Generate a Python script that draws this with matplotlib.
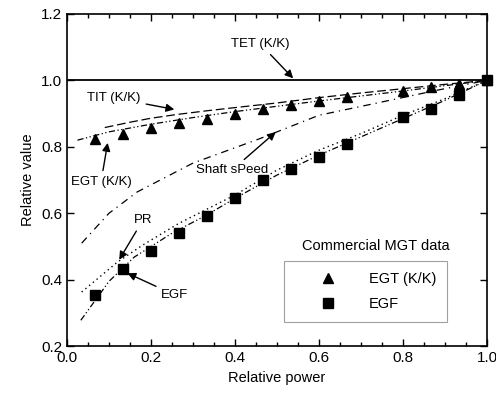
import matplotlib
matplotlib.use("Agg")
import matplotlib.pyplot as plt
from matplotlib.ticker import MultipleLocator
from matplotlib.lines import Line2D

plt.rcParams['font.family'] = ['Liberation Sans', 'DejaVu Sans']

# Measured data (commercial MGT)
egt_x = [0.067, 0.133, 0.2, 0.267, 0.333, 0.4, 0.467, 0.533, 0.6, 0.667, 0.8, 0.867, 0.933, 1.0]
egt_y = [0.825, 0.84, 0.857, 0.872, 0.884, 0.9, 0.914, 0.926, 0.938, 0.95, 0.968, 0.98, 0.99, 1.0]
egf_x = [0.067, 0.133, 0.2, 0.267, 0.333, 0.4, 0.467, 0.533, 0.6, 0.667, 0.8, 0.867, 0.933, 1.0]
egf_y = [0.354, 0.432, 0.486, 0.54, 0.592, 0.645, 0.70, 0.733, 0.77, 0.808, 0.89, 0.914, 0.956, 1.0]

# Model curves
tet_x = [0.0, 1.0]
tet_y = [1.0, 1.0]
tit_x = [0.09, 0.15, 0.2, 0.26, 0.33, 0.4, 0.5, 0.6, 0.7, 0.8, 0.9, 1.0]
tit_y = [0.858, 0.874, 0.886, 0.897, 0.908, 0.918, 0.932, 0.948, 0.962, 0.975, 0.988, 1.0]
egtm_x = [0.025, 0.1, 0.2, 0.3, 0.4, 0.5, 0.6, 0.7, 0.8, 0.9, 1.0]
egtm_y = [0.82, 0.845, 0.868, 0.888, 0.906, 0.922, 0.938, 0.953, 0.968, 0.984, 1.0]
spd_x = [0.035, 0.1, 0.167, 0.3, 0.46, 0.6, 0.75, 0.88, 1.0]
spd_y = [0.51, 0.6, 0.664, 0.751, 0.825, 0.895, 0.935, 0.97, 1.0]
pr_x = [0.035, 0.12, 0.18, 0.267, 0.4, 0.5, 0.6, 0.7, 0.8, 0.9, 1.0]
pr_y = [0.363, 0.453, 0.504, 0.57, 0.655, 0.73, 0.79, 0.84, 0.895, 0.945, 1.0]
egfm_x = [0.033, 0.1, 0.16, 0.25, 0.333, 0.4, 0.5, 0.6, 0.7, 0.8, 0.9, 1.0]
egfm_y = [0.278, 0.395, 0.468, 0.54, 0.595, 0.645, 0.715, 0.775, 0.83, 0.885, 0.94, 1.0]

fig = plt.figure(figsize=(4.96, 3.97), dpi=100)
ax = fig.add_axes([0.135, 0.128, 0.847, 0.837])

ax.plot(tet_x, tet_y, color='black', lw=1.3, ls='-')
ax.plot(tit_x, tit_y, color='black', lw=0.9, ls=(0, (7, 3)))
ax.plot(egtm_x, egtm_y, color='black', lw=0.9, ls=(0, (5, 2, 1, 2, 1, 2)))
ax.plot(spd_x, spd_y, color='black', lw=0.9, ls=(0, (6, 4, 1, 4)))
ax.plot(pr_x, pr_y, color='black', lw=1.0, ls=(0, (1, 2.5)))
ax.plot(egfm_x, egfm_y, color='black', lw=0.9, ls=(0, (5, 2, 1, 2, 1, 2)))

ax.plot(egt_x, egt_y, ls='none', marker='^', ms=7.5, color='black', clip_on=False)
ax.plot(egf_x, egf_y, ls='none', marker='s', ms=7.5, color='black', clip_on=False)

ax.set_xlim(0.0, 1.0)
ax.set_ylim(0.2, 1.2)
ax.xaxis.set_major_locator(MultipleLocator(0.2))
ax.xaxis.set_minor_locator(MultipleLocator(0.05))
ax.yaxis.set_major_locator(MultipleLocator(0.2))
ax.tick_params(which='both', direction='in', top=True, right=True, labelsize=11)
ax.tick_params(which='major', length=5, width=1)
ax.tick_params(which='minor', length=3, width=1)
ax.set_xticklabels([f"{v:.1f}" for v in ax.get_xticks()])
for s in ax.spines.values():
    s.set_linewidth(1.2)

ax.set_xlabel("Relative power", fontsize=10.5)
ax.set_ylabel("Relative value", fontsize=10.5)

arrowp = dict(arrowstyle='-|>', color='black', lw=1.0, mutation_scale=12)
fs = 9.5
ax.annotate("TET (K/K)", xy=(0.543, 1.0), xytext=(0.46, 1.11), ha='center', va='center',
            fontsize=fs, arrowprops=arrowp)
ax.annotate("TIT (K/K)", xy=(0.262, 0.911), xytext=(0.112, 0.947), ha='center', va='center',
            fontsize=fs, arrowprops=arrowp)
ax.annotate("EGT (K/K)", xy=(0.098, 0.82), xytext=(0.081, 0.694), ha='center', va='center',
            fontsize=fs, arrowprops=arrowp)
ax.annotate("Shaft sPeed", xy=(0.502, 0.85), xytext=(0.393, 0.73), ha='center', va='center',
            fontsize=fs, arrowprops=arrowp)
ax.annotate("PR", xy=(0.121, 0.453), xytext=(0.181, 0.58), ha='center', va='center',
            fontsize=fs, arrowprops=arrowp)
ax.annotate("EGF", xy=(0.138, 0.423), xytext=(0.257, 0.354), ha='center', va='center',
            fontsize=fs, arrowprops=arrowp)

handles = [Line2D([], [], ls='none', marker='^', ms=7, color='black'),
           Line2D([], [], ls='none', marker='s', ms=7, color='black')]
leg = ax.legend(handles, ["EGT (K/K)", "EGF"], loc='lower right',
                bbox_to_anchor=(0.923, 0.05), fontsize=10.5, frameon=True,
                fancybox=False, edgecolor='#888888', handletextpad=0.5,
                borderpad=0.75, labelspacing=0.75, handlelength=4.6)
leg.get_frame().set_linewidth(0.8)
ax.text(0.734, 0.501, "Commercial MGT data", fontsize=10.5, ha='center', va='center')

fig.savefig("out.png", dpi=100)
